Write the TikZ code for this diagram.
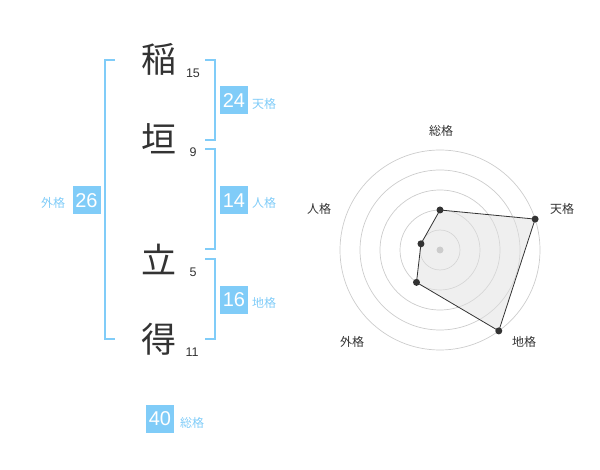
\documentclass[tikz,border=0pt]{standalone}
\usepackage{fontspec}
\setmainfont{Liberation Sans}
\newfontfamily\jp{Noto Sans CJK JP}
\definecolor{kblue}{HTML}{80CCF8}
\definecolor{ink}{HTML}{333333}
\definecolor{ring}{HTML}{CCCCCC}
\begin{document}
\begin{tikzpicture}[x=1pt,y=-1pt,
  kanji/.style={font=\jp\fontsize{35}{35}\selectfont, text=ink, inner sep=0pt},
  strokes/.style={font=\fontsize{12.5}{12.5}\selectfont, text=ink, inner sep=0pt},
  scorebox/.style={fill=kblue, text=white, minimum size=28pt, inner sep=0pt, font=\fontsize{20}{20}\selectfont},
  scorelabel/.style={font=\jp\fontsize{12}{12}\selectfont, text=kblue, inner sep=0pt},
  bracket/.style={draw=kblue, line width=2pt},
  ringline/.style={draw=ring, line width=0.7pt},
  axislabel/.style={font=\jp\fontsize{12}{12}\selectfont, text=ink, inner sep=0pt},
  dot/.style={fill=ink}
]
\useasboundingbox (0,0) rectangle (600,470);

% characters
\node[kanji] (c1) at (159,59) {稲};
\node[kanji] (c2) at (159,139) {垣};
\node[kanji] (c3) at (159,259) {立};
\node[kanji] (c4) at (159,339) {得};
\node[strokes] (s1) at (193,73) {15};
\node[strokes] (s2) at (193,152) {9};
\node[strokes] (s3) at (193,272.5) {5};
\node[strokes] (s4) at (192,352.5) {11};

% brackets
\draw[bracket] (115,60) -- (105,60) -- (105,339) -- (115,339);
\draw[bracket] (205,60) -- (215,60) -- (215,140) -- (205,140);
\draw[bracket] (205,149) -- (215,149) -- (215,249) -- (205,249);
\draw[bracket] (205,259) -- (215,259) -- (215,339) -- (205,339);

% scores
\node[scorebox] (b1) at (234,100.5) {24};
\node[scorelabel] (l1) at (264,104) {天格};
\node[scorebox] (b2) at (234,200.5) {14};
\node[scorelabel] (l2) at (264,203) {人格};
\node[scorebox] (b3) at (234,300) {16};
\node[scorelabel] (l3) at (264,303) {地格};
\node[scorebox] (b4) at (86.5,200.5) {26};
\node[scorelabel] (l4) at (53,203) {外格};
\node[scorebox] (b5) at (160,419) {40};
\node[scorelabel] (l5) at (192,423) {総格};

% radar
\coordinate (ctr) at (440,250);
\foreach \r in {20,40,60,80,100} \draw[ringline] (ctr) circle[radius=\r pt];
\coordinate (p1) at ([shift={(ctr)}]-90:40);
\coordinate (p2) at ([shift={(ctr)}]-18:100);
\coordinate (p3) at ([shift={(ctr)}]54:100);
\coordinate (p4) at ([shift={(ctr)}]126:40);
\coordinate (p5) at ([shift={(ctr)}]-162:20);
\draw[fill=black!12, fill opacity=0.5, draw=ink, line width=0.8pt] (p1) -- (p2) -- (p3) -- (p4) -- (p5) -- cycle;
\foreach \p in {p1,p2,p3,p4,p5} \fill[dot] (\p) circle[radius=3.5pt];
\fill[ring] (ctr) circle[radius=3.5pt];

\node[axislabel] (a1) at (441,131) {総格};
\node[axislabel] (a2) at (562,209) {天格};
\node[axislabel] (a3) at (319,209) {人格};
\node[axislabel] (a4) at (352,342) {外格};
\node[axislabel] (a5) at (524,342) {地格};
\end{tikzpicture}
\end{document}
